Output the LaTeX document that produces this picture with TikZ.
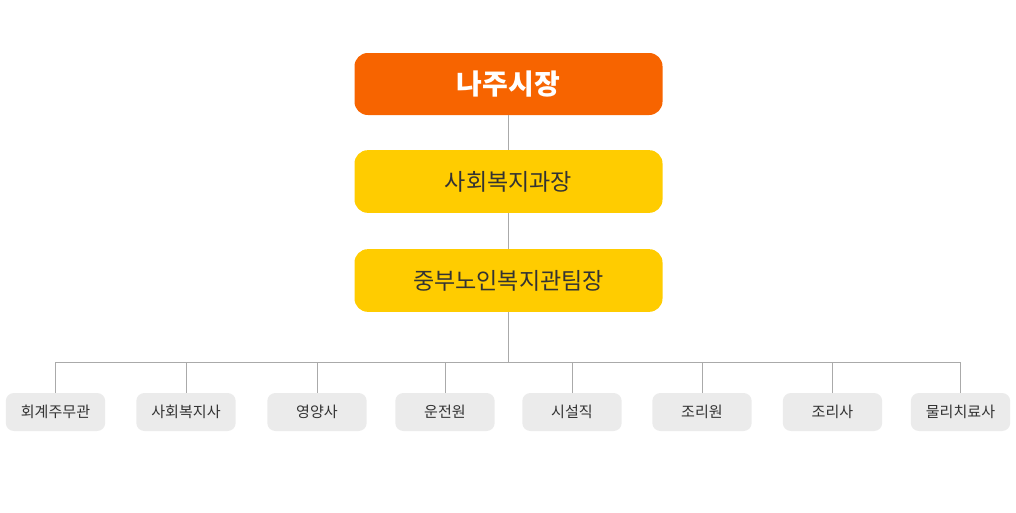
\documentclass[tikz,border=0pt]{standalone}
\usepackage{fontspec}
\setmainfont{Noto Sans CJK KR}
\usetikzlibrary{positioning}
\definecolor{headorange}{HTML}{F76400}
\definecolor{teamyellow}{HTML}{FFCC00}
\definecolor{staffgray}{HTML}{EBEBEB}
\definecolor{linegray}{HTML}{AAAAAA}
\definecolor{textgray}{HTML}{333333}
\tikzset{
  headbox/.style={fill=headorange, text=white, rounded corners=10pt, minimum width=231pt, minimum height=46.5pt, inner sep=0pt, font=\fontsize{21}{21}\selectfont\bfseries},
  teambox/.style={fill=teamyellow, text=textgray, rounded corners=10pt, minimum width=231pt, minimum height=47pt, inner sep=0pt, font=\fontsize{17.3}{17.3}\selectfont},
  staffbox/.style={fill=staffgray, text=textgray, rounded corners=6pt, minimum width=74.5pt, minimum height=28.5pt, inner sep=0pt, font=\fontsize{11.3}{11.3}\selectfont},
  link/.style={draw=linegray, line width=0.75pt}
}
\begin{document}
\begin{tikzpicture}[x=0.75pt,y=-0.75pt]
			%%%%% CHART %%%%%
			\def\cx{508.5}
			\def\ystaff{412}
			\def\ybus{362}
			\useasboundingbox (0,0) rectangle (1016,512);
			
			\node[headbox] (mayor) at (\cx,84) {나주시장};
			\node[teambox] (welfare) at (\cx,181.5) {사회복지과장};
			\node[teambox] (team) at (\cx,280.5) {중부노인복지관팀장};
			
			\coordinate (bus) at (\cx,\ybus);
			
			\foreach \i/\x/\name in {1/55.5/회계주무관, 2/186/사회복지사, 3/317/영양사, 4/445/운전원, 5/572/시설직, 6/702/조리원, 7/832.5/조리사, 8/960.5/물리치료사}
			{
				\node[staffbox] (s\i) at (\x,\ystaff) {\name};
			}
			
			\draw[link] (mayor) -- (welfare);
			\draw[link] (welfare) -- (team);
			\draw[link] (team) -- (bus);
			\foreach \i in {1,...,8}
				\draw[link] (s\i.north) |- (bus);
			%%%%% CHART %%%%%
\end{tikzpicture}
\end{document}
